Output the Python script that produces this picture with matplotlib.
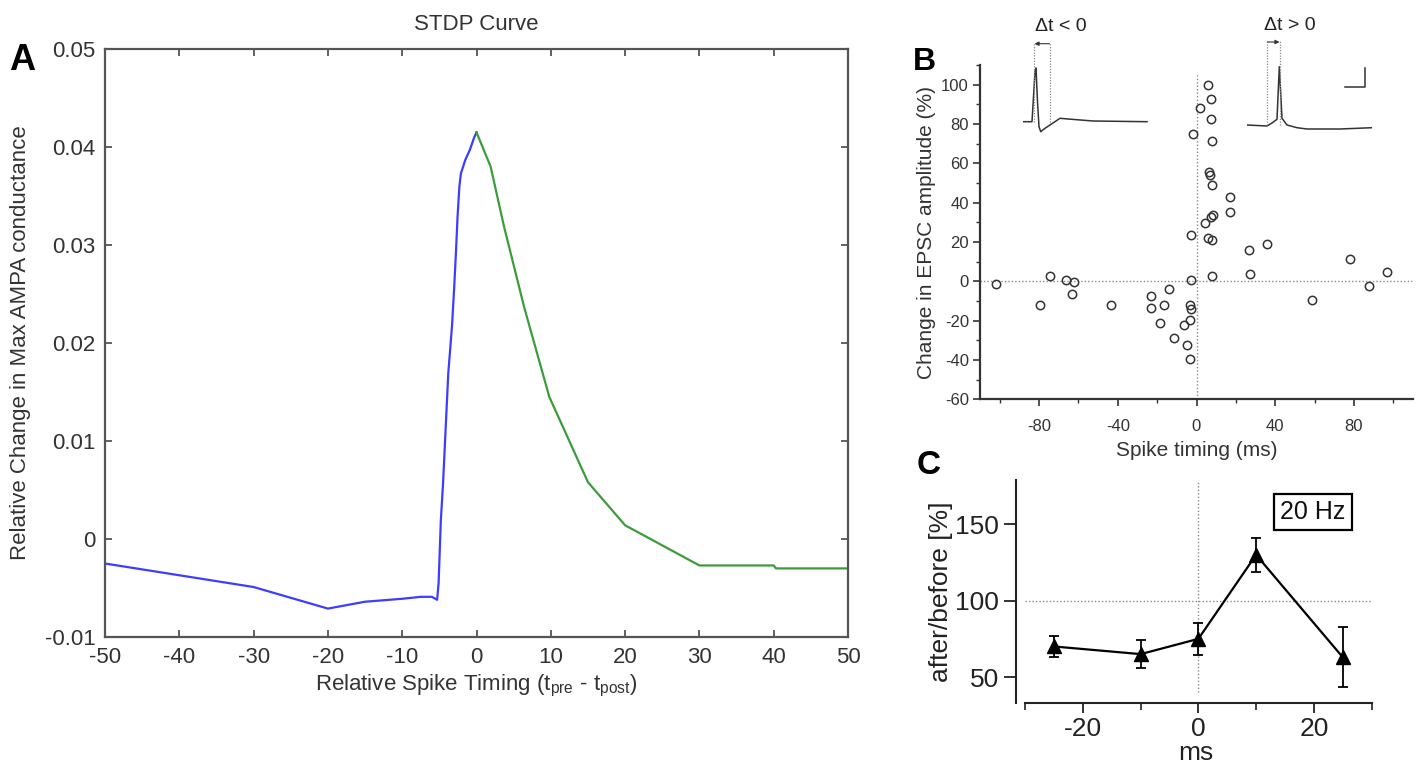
import numpy as np
import matplotlib
matplotlib.use('Agg')
import matplotlib.pyplot as plt
from matplotlib.ticker import FuncFormatter, FixedLocator, MultipleLocator

plt.rcParams['font.family'] = ['Liberation Sans', 'DejaVu Sans']
plt.rcParams['mathtext.default'] = 'regular'

# ---------------- data ----------------
# Panel A: STDP curve (LTD branch in blue, LTP branch in green)
ltd_x = [-50, -40, -30, -25, -20, -15, -10, -7.5, -6, -5.3, -5.1, -4.8, -4.5, -4.1,
         -3.8, -3.3, -3.0, -2.75, -2.55, -2.3, -2.1, -1.5, -0.9, -0.35, 0]
ltd_y = [-0.0025, -0.0037, -0.0049, -0.0060, -0.0071, -0.0064, -0.0061, -0.0059,
         -0.0059, -0.0062, -0.0045, 0.0019, 0.0057, 0.0121, 0.0169, 0.0217, 0.0257,
         0.0295, 0.0329, 0.0360, 0.0373, 0.0387, 0.0397, 0.0409, 0.0415]
ltp_x = [0, 1.9, 3.7, 6.4, 9.8, 15, 20, 30, 40, 40.3, 50]
ltp_y = [0.0415, 0.0380, 0.0319, 0.0237, 0.0145, 0.0058, 0.0014, -0.0027,
         -0.0027, -0.0030, -0.0030]
a_xticks = [-50, -40, -30, -20, -10, 0, 10, 20, 30, 40, 50]
a_yticks = [-0.01, 0.0, 0.01, 0.02, 0.03, 0.04, 0.05]

# Panel B: change in EPSC amplitude vs spike timing
b_x = [-101.8, -74.2, -66.3, -62.4, -63.5, 5.6, 7.3, 1.9, 7.6, -1.9, 7.8, 6.1, 6.9,
       7.8, 17.1, 16.8, 7.3, 8.5, 4.4, -2.7, 5.9, 8.1, 26.7, 35.8, 78.1, 27.0, 8.1,
       -2.7, 96.6, 87.6, -79.3, -43.2, -13.9, -23.0, -23.0, -16.5, -18.7, -11.4,
       -6.6, -3.4, -2.9, -3.3, -4.6, -3.3, 58.6]
b_y = [-1.2, 2.9, 0.5, -0.5, -6.2, 100, 92.7, 88.3, 82.7, 75.1, 71.1, 55.7, 54,
       49, 43, 35, 32.9, 33.5, 29.9, 23.6, 22, 20.8, 15.7, 18.9, 11.3, 3.9, 2.5,
       0.9, 4.6, -2.2, -12.3, -12.1, -3.9, -7.7, -13.8, -12.1, -21.1, -29, -22.3,
       -12.1, -14.3, -19.9, -32.6, -39.6, -9.3]
b_xticks = [-80, -40, 0, 40, 80]
b_xminor = [-100, -60, -20, 20, 60, 100]
b_yticks = [-60, -40, -20, 0, 20, 40, 60, 80, 100]

# Panel B inset traces (arbitrary units)
trace_neg_t = [0, 9, 10.5, 12, 13, 14.5, 16, 17.7, 22, 27, 37, 48.7, 70, 124]
trace_neg_v = [0, 0, 25, 50, 53.7, 20, -5, -10, -6.6, -3.3, 3.4, 2.4, 0.7, 0]
trace_pos_t = [0, 20, 25, 30, 32.3, 35, 40, 50, 60, 93, 125]
trace_pos_v = [0, -1, 2, 5.7, 58.3, 6.7, 0, -2.7, -4, -4, -2.7]
scalebar_t = [98, 118, 118]
scalebar_v = [38, 38, 57]

# Panel C: 20 Hz pairing
c_x = [-25, -10, 0, 10, 25]
c_y = [70, 65, 75, 130, 63]
c_err = [7, 9, 10.5, 11, 19.5]
c_xticks = [-20, 0, 20]
c_xminor = [-30, -10, 10, 30]
c_yticks = [50, 100, 150]

# ---------------- figure ----------------
W, H = 1422, 768
fig = plt.figure(figsize=(W / 100, H / 100), dpi=100)
fig.patch.set_facecolor('white')


def px_rect(x0, y0, x1, y1):
    return [x0 / W, 1 - y1 / H, (x1 - x0) / W, (y1 - y0) / H]


# ---- Panel A ----
txtA = '#333333'
axA = fig.add_axes(px_rect(105, 49, 848, 637))
axA.plot(ltd_x, ltd_y, color='#3d3dff', lw=1.6)
axA.plot(ltp_x, ltp_y, color='#3c9c3c', lw=1.6)
axA.set_xlim(-50, 50)
axA.set_ylim(-0.01, 0.05)
axA.set_xticks(a_xticks)
axA.set_yticks(a_yticks)
axA.xaxis.set_major_formatter(FuncFormatter(lambda v, p: f'{v:g}'))
axA.yaxis.set_major_formatter(FuncFormatter(lambda v, p: '0' if abs(v) < 1e-9 else f'{v:.2f}'))
axA.tick_params(direction='in', top=True, right=True, length=5, width=1.3,
                color='#555555', labelsize=16, labelcolor=txtA, pad=7)
for s in axA.spines.values():
    s.set_color('#555555')
    s.set_linewidth(1.6)
axA.set_title('STDP Curve', fontsize=16, color=txtA, pad=14)
axA.set_xlabel('Relative Spike Timing (t$_{pre}$ - t$_{post}$)', fontsize=16,
               color=txtA, labelpad=4)
axA.set_ylabel('Relative Change in Max AMPA conductance', fontsize=16,
               color=txtA, labelpad=10)
fig.text(22 / W, 1 - 61 / H, 'A', fontsize=26, fontweight='bold',
         ha='center', va='center')

# ---- Panel B ----
dot_style = dict(color='#8a8a8a', lw=1.0, ls=(0, (1, 1.5)))
axB = fig.add_axes(px_rect(980, 65, 1413, 399.3))
axB.axhline(0, zorder=1, **dot_style)
axB.vlines(0, -60, 105, zorder=1, **dot_style)
axB.plot(b_x, b_y, 'o', ls='none', mfc='none', mec='#333333', ms=6, mew=1.1, zorder=3)
axB.set_xlim(-110, 110)
axB.set_ylim(-60, 110)
axB.xaxis.set_major_locator(FixedLocator(b_xticks))
axB.xaxis.set_minor_locator(FixedLocator(b_xminor))
axB.yaxis.set_major_locator(FixedLocator(b_yticks))
axB.yaxis.set_minor_locator(MultipleLocator(10))
axB.xaxis.set_major_formatter(FuncFormatter(lambda v, p: f'{v:g}'))
axB.yaxis.set_major_formatter(FuncFormatter(lambda v, p: f'{v:g}'))
axB.tick_params(which='major', direction='out', length=5, width=1.2,
                labelsize=12, color='#333333', labelcolor='#333333')
axB.tick_params(axis='x', which='major', pad=9)
axB.tick_params(axis='y', which='major', pad=3)
axB.tick_params(which='minor', direction='out', length=3, width=1.0, color='#333333')
for side in ('top', 'right'):
    axB.spines[side].set_visible(False)
for side in ('left', 'bottom'):
    axB.spines[side].set_linewidth(1.6)
    axB.spines[side].set_color('#333333')
axB.set_xlabel('Spike timing (ms)', fontsize=15, color='#333333', labelpad=5)
axB.set_ylabel('Change in EPSC amplitude (%)', fontsize=15, color='#333333', labelpad=4)
fig.text(924 / W, 1 - 62 / H, 'B', fontsize=23, fontweight='bold',
         ha='center', va='center')

# inset traces
trace_col = '#333333'
in_dot = dict(color='#8a8a8a', lw=0.9, ls=(0, (1, 1.2)))
axI1 = fig.add_axes(px_rect(1023, 42, 1148, 133))
axI1.plot(trace_neg_t, trace_neg_v, color=trace_col, lw=1.1)
axI1.vlines([11, 27], 0, 79, **in_dot)
axI1.annotate('', xy=(11.5, 78), xytext=(26.5, 78),
              arrowprops=dict(arrowstyle='-|>', lw=0.8, color=trace_col,
                              mutation_scale=6, shrinkA=0, shrinkB=0))
axI1.text(38, 95, 'Δt < 0', fontsize=14, ha='center', va='center', color='#222222')
axI1.set_xlim(0, 125)
axI1.set_ylim(-11.3, 79.7)
axI1.axis('off')

axI2 = fig.add_axes(px_rect(1247, 40, 1372, 132))
axI2.plot(trace_pos_t, trace_pos_v, color=trace_col, lw=1.1)
axI2.vlines([20, 33], 0, 85, **in_dot)
axI2.annotate('', xy=(32.5, 83), xytext=(20.5, 83),
              arrowprops=dict(arrowstyle='-|>', lw=0.8, color=trace_col,
                              mutation_scale=6, shrinkA=0, shrinkB=0))
axI2.plot(scalebar_t, scalebar_v, color=trace_col, lw=1.1)
axI2.text(43, 100, 'Δt > 0', fontsize=14, ha='center', va='center', color='#222222')
axI2.set_xlim(0, 125)
axI2.set_ylim(-7, 85)
axI2.axis('off')

# ---- Panel C ----
axC = fig.add_axes(px_rect(1016, 480, 1375, 703))
axC.hlines(100, -30, 30, zorder=1, **dot_style)
axC.vlines(0, 40, 179, zorder=1, **dot_style)
axC.errorbar(c_x, c_y, yerr=c_err, fmt='-^', color='black', ms=10, lw=1.6,
             capsize=3.5, elinewidth=1.3, capthick=1.3, zorder=3)
axC.set_xlim(-31.6, 30.6)
axC.set_ylim(33, 179)
axC.xaxis.set_major_locator(FixedLocator(c_xticks))
axC.xaxis.set_minor_locator(FixedLocator(c_xminor))
axC.yaxis.set_major_locator(FixedLocator(c_yticks))
axC.xaxis.set_major_formatter(FuncFormatter(lambda v, p: f'{v:g}'))
axC.yaxis.set_major_formatter(FuncFormatter(lambda v, p: f'{v:g}'))
axC.tick_params(which='major', direction='out', width=1.3, labelsize=19,
                color='#222222', labelcolor='#222222')
axC.tick_params(axis='y', which='major', length=9, pad=3)
axC.tick_params(axis='x', which='major', length=7, pad=3)
axC.tick_params(which='minor', direction='out', length=5, width=1.2, color='#222222')
for side in ('top', 'right'):
    axC.spines[side].set_visible(False)
axC.spines['bottom'].set_bounds(-30, 30)
for side in ('left', 'bottom'):
    axC.spines[side].set_linewidth(1.5)
    axC.spines[side].set_color('#222222')
axC.text(19.8, 158, '20 Hz', fontsize=18, ha='center', va='center', color='#111111',
         bbox=dict(boxstyle='square,pad=0.25', fc='white', ec='black', lw=1.6))
axC.set_xlabel('ms', fontsize=19, color='#222222', labelpad=0)
axC.set_ylabel('after/before [%]', fontsize=19, color='#222222', labelpad=2)
fig.text(929 / W, 1 - 466 / H, 'C', fontsize=24, fontweight='bold',
         ha='center', va='center')

fig.savefig('out.png', dpi=100, facecolor='white')
